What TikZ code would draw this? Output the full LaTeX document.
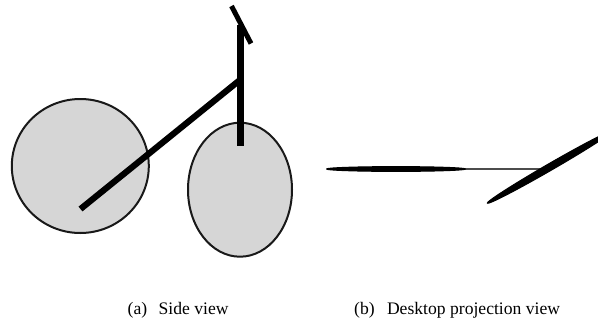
\documentclass[tikz,border=0pt]{standalone}
\usepackage{fontspec}
\setmainfont{Liberation Serif}
\tikzset{
  wheel/.style={draw=black!90,line width=2pt,fill=black!16},
  rod/.style={draw=black,line width=6.2pt},
  bar/.style={draw=black,line width=5pt},
  sliver/.style={fill=black,draw=black,line width=1pt,line join=round},
  caption/.style={font=\fontsize{17.6}{20}\selectfont,inner sep=0pt,anchor=base west}
}
\begin{document}
\begin{tikzpicture}[x=1pt,y=-1pt]
\useasboundingbox (0,0) rectangle (598,322);
\begin{scope}
\clip (0,0) rectangle (598,322);
% side view: two discs, the strut and the head
\draw[wheel] (80.3,166) ellipse [x radius=68.5,y radius=67];
\draw[wheel] (240,189.7) ellipse [x radius=52,y radius=67];
\draw[rod] (80.5,209) -- (240.5,79.5);
\draw[rod] (240.5,25) -- (240.5,146);
\draw[bar] (231.5,6) -- (251,43.5);
% projected view: flattened discs joined by a thin line
\draw[draw=black!70,line width=1.5pt] (460,169) -- (545,169);
\filldraw[sliver] (396,169) ellipse [x radius=69.5,y radius=2.4];
\filldraw[sliver,rotate around={30:(550,167)}] (550,167) ellipse [x radius=72.5,y radius=3.4];
\end{scope}
% captions
\node[caption] (capa) at (127.5,314.5) {(a)\hspace{0.65em}Side view};
\node[caption] (capb) at (354,314.5) {(b)\hspace{0.7em}Desktop projection view};
\end{tikzpicture}
\end{document}
